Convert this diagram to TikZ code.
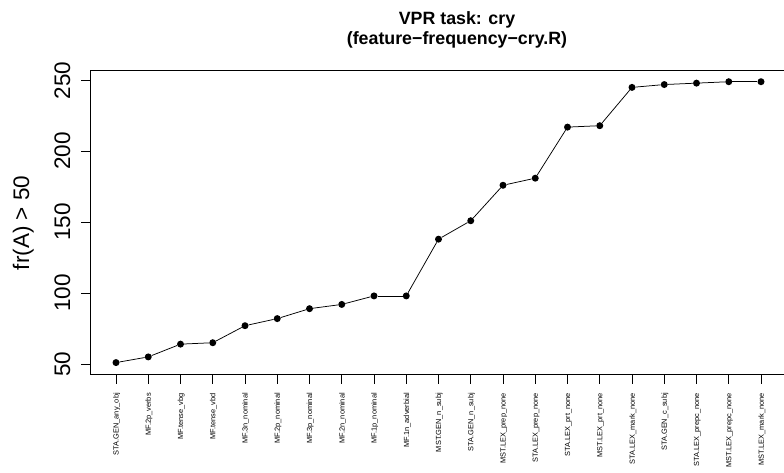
\documentclass[tikz,border=0pt]{standalone}
\usepackage{fontspec}
\setmainfont{Liberation Sans}
\begin{document}
\begin{tikzpicture}[x=1pt,y=-1pt,
  dot/.style={circle,fill=black,inner sep=0pt,minimum size=7pt},
  conn/.style={line width=0.75pt,black},
  frame/.style={line width=0.9pt,black},
  ticklab/.style={font=\fontsize{22.5}{24}\selectfont,rotate=90,anchor=base,inner sep=0pt},
  xlab/.style={font=\fontsize{7.4}{8}\selectfont,rotate=90,anchor=east,inner sep=0pt},
  titlefont/.style={font=\fontsize{17.8}{20}\selectfont\bfseries,anchor=base,inner sep=0pt}]
\useasboundingbox (0,0) rectangle (784,473);
\clip (0,0) rectangle (784,473);
% titles
\node[titlefont] (t1) at (457,25) {VPR task: cry};
\node[titlefont] (t2) at (457,45) {(feature−frequency−cry.R)};
% frame
\draw[frame] (90.5,70.7) rectangle (800,374);
% y axis
\foreach \v in {50,100,150,200,250} {
  \pgfmathsetmacro\yy{364-(\v-50)*1.4185}
  \draw[frame] (81,\yy) -- (90.5,\yy);
  \node[ticklab] (yl\v) at (70,\yy) {\v};
}
\node[ticklab] (ylab) at (29,223) {fr(A) > 50};
% x labels and ticks
\foreach \lab [count=\i] in {STA.GEN\_any\_obj,MF.2p\_verbs,MF.tense\_vbg,MF.tense\_vbd,MF.3n\_nominal,MF.2p\_nominal,MF.3p\_nominal,MF.2n\_nominal,MF.1p\_nominal,MF.1n\_adverbial,MST.GEN\_n\_subj,STA.GEN\_n\_subj,MST.LEX\_prep\_none,STA.LEX\_prep\_none,STA.LEX\_prt\_none,MST.LEX\_prt\_none,STA.LEX\_mark\_none,STA.GEN\_c\_subj,STA.LEX\_prepc\_none,MST.LEX\_prepc\_none,MST.LEX\_mark\_none} {
  \pgfmathsetmacro\xx{116+(\i-1)*32.25}
  \draw[frame] (\xx,374) -- (\xx,383.5);
  \node[xlab] (xl\i) at (\xx+0.8,393) {\lab};
}
% data points
\foreach \v [count=\i] in {51,55,64,65,77,82,89,92,98,98,138,151,176,181,217,218,245,247,248,249,249} {
  \pgfmathsetmacro\xx{116+(\i-1)*32.25}
  \pgfmathsetmacro\yy{364-(\v-50)*1.4185}
  \node[dot] (p\i) at (\xx,\yy) {};
}
\foreach \i [remember=\i as \j (initially 1)] in {2,...,21} {
  \draw[conn] (p\j) -- (p\i);
}
\end{tikzpicture}
\end{document}
